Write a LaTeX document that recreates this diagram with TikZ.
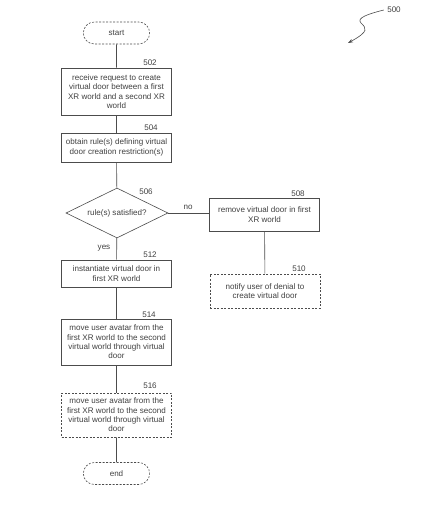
\documentclass[tikz,border=0pt]{standalone}
\usepackage{fontspec}
\setmainfont{Liberation Sans}
\usetikzlibrary{shapes.geometric,shapes.misc,arrows.meta,positioning}

\begin{document}
\begin{tikzpicture}[x=1bp,y=-1bp,
  every node/.style={font=\fontsize{8.1}{9.4}\selectfont, text=black!75},
  box/.style={draw=black!70, line width=0.6bp, rectangle, minimum width=110bp, align=center, inner sep=0pt},
  dbox/.style={box, dash pattern=on 2bp off 1.5bp},
  term/.style={draw=black!70, line width=0.6bp, rounded rectangle, minimum width=73bp, minimum height=22bp, dash pattern=on 2bp off 1.5bp},
  cond/.style={draw=black!70, line width=0.6bp, diamond, aspect=2, minimum width=102bp, minimum height=50bp, inner sep=0pt},
  flow/.style={draw=black!70, line width=0.6bp}]
  \useasboundingbox (0,0) rectangle (448,509);
  % main column
  \node[term] (start) at (116.5,33) {start};
  \node[box, minimum height=47bp] (b502) at (116.5,91.5) {receive request to create\\virtual door between a first\\XR world and a second XR\\world};
  \node[box, minimum height=29bp] (b504) at (116.5,147.5) {obtain rule(s) defining virtual\\door creation restriction(s)};
  \node[cond] (d506) at (117,213) {rule(s) satisfied?};
  \node[box, minimum height=27bp] (b512) at (116.5,273.5) {instantiate virtual door in\\first XR world};
  \node[box, minimum height=46bp] (b514) at (116.5,342) {move user avatar from the\\first XR world to the second\\virtual world through virtual\\door};
  \node[dbox, minimum height=44bp] (b516) at (116.5,415) {move user avatar from the\\first XR world to the second\\virtual world through virtual\\door};
  \node[term] (stop) at (116.5,473.5) {end};
  % right column
  \node[box, minimum height=33bp] (b508) at (264.5,214.5) {remove virtual door in first\\XR world};
  \node[dbox, minimum height=34bp] (b510) at (265,291) {notify user of denial to\\create virtual door};
  % reference numbers
  \node (l502) at (150,63) {502};
  \node (l504) at (151,128) {504};
  \node (l506) at (146,192) {506};
  \node (l508) at (298,194) {508};
  \node (l510) at (299,269) {510};
  \node (l512) at (150,255) {512};
  \node (l514) at (149,315) {514};
  \node (l516) at (150,386) {516};
  \node (lyes) at (104,248) {yes};
  \node (lno) at (188,207) {no};
  \node (l500) at (394,10) {500};
  \coordinate (a500) at (348,43);
  % connectors
  \draw[flow] (start) -- (b502);
  \draw[flow] (b502) -- (b504);
  \draw[flow] (b504) -- (d506);
  \draw[flow] (d506) -- (b512);
  \draw[flow] (d506.east) -- (d506.east -| b508.west);
  \draw[flow] (b508) -- (b510);
  \draw[flow] (b512) -- (b514);
  \draw[flow] (b514) -- (b516);
  \draw[flow] (b516) -- (stop);
  \draw[flow, -{Stealth[length=5bp,width=3.5bp]}] (l500.west) .. controls (368,14) and (356,18) .. (361,23) .. controls (366,28) and (370,31) .. (a500);
\end{tikzpicture}
\end{document}
